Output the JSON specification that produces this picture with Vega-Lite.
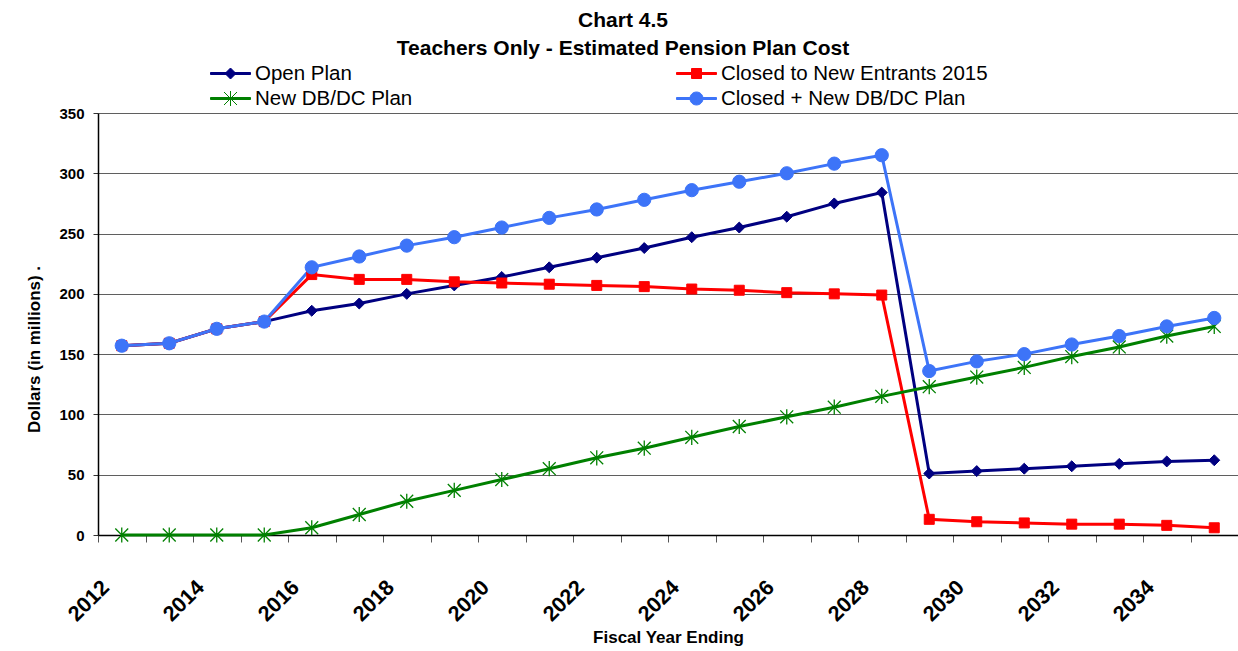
{
  "$schema": "https://vega.github.io/schema/vega-lite/v6.json",
  "autosize": {"type": "none"},
  "width": 1140,
  "height": 422,
  "padding": {"left": 98, "top": 113, "right": 0, "bottom": 116},
  "background": "white",
  "config": {
    "font": "Liberation Sans",
    "view": {"stroke": null},
    "axis": {"labelFont": "Liberation Sans", "titleFont": "Liberation Sans", "labelColor": "black", "titleColor": "black"}
  },
  "title": {
    "text": ["Chart 4.5", "Teachers Only - Estimated Pension Plan Cost"],
    "font": "Liberation Sans",
    "fontSize": 21,
    "fontWeight": "bold",
    "lineHeight": 28,
    "color": "black",
    "anchor": "middle",
    "frame": "group",
    "dx": -45,
    "offset": 4
  },
  "data": {
    "values": [
      {"year": 2012, "series": "Open Plan", "value": 157},
      {"year": 2013, "series": "Open Plan", "value": 159},
      {"year": 2014, "series": "Open Plan", "value": 171},
      {"year": 2015, "series": "Open Plan", "value": 177},
      {"year": 2016, "series": "Open Plan", "value": 186},
      {"year": 2017, "series": "Open Plan", "value": 192},
      {"year": 2018, "series": "Open Plan", "value": 200},
      {"year": 2019, "series": "Open Plan", "value": 207},
      {"year": 2020, "series": "Open Plan", "value": 214},
      {"year": 2021, "series": "Open Plan", "value": 222},
      {"year": 2022, "series": "Open Plan", "value": 230},
      {"year": 2023, "series": "Open Plan", "value": 238},
      {"year": 2024, "series": "Open Plan", "value": 247},
      {"year": 2025, "series": "Open Plan", "value": 255},
      {"year": 2026, "series": "Open Plan", "value": 264},
      {"year": 2027, "series": "Open Plan", "value": 275},
      {"year": 2028, "series": "Open Plan", "value": 284},
      {"year": 2029, "series": "Open Plan", "value": 51},
      {"year": 2030, "series": "Open Plan", "value": 53},
      {"year": 2031, "series": "Open Plan", "value": 55},
      {"year": 2032, "series": "Open Plan", "value": 57},
      {"year": 2033, "series": "Open Plan", "value": 59},
      {"year": 2034, "series": "Open Plan", "value": 61},
      {"year": 2035, "series": "Open Plan", "value": 62},
      {"year": 2012, "series": "Closed to New Entrants 2015", "value": 157},
      {"year": 2013, "series": "Closed to New Entrants 2015", "value": 159},
      {"year": 2014, "series": "Closed to New Entrants 2015", "value": 171},
      {"year": 2015, "series": "Closed to New Entrants 2015", "value": 177},
      {"year": 2016, "series": "Closed to New Entrants 2015", "value": 216},
      {"year": 2017, "series": "Closed to New Entrants 2015", "value": 212},
      {"year": 2018, "series": "Closed to New Entrants 2015", "value": 212},
      {"year": 2019, "series": "Closed to New Entrants 2015", "value": 210},
      {"year": 2020, "series": "Closed to New Entrants 2015", "value": 209},
      {"year": 2021, "series": "Closed to New Entrants 2015", "value": 208},
      {"year": 2022, "series": "Closed to New Entrants 2015", "value": 207},
      {"year": 2023, "series": "Closed to New Entrants 2015", "value": 206},
      {"year": 2024, "series": "Closed to New Entrants 2015", "value": 204},
      {"year": 2025, "series": "Closed to New Entrants 2015", "value": 203},
      {"year": 2026, "series": "Closed to New Entrants 2015", "value": 201},
      {"year": 2027, "series": "Closed to New Entrants 2015", "value": 200},
      {"year": 2028, "series": "Closed to New Entrants 2015", "value": 199},
      {"year": 2029, "series": "Closed to New Entrants 2015", "value": 13},
      {"year": 2030, "series": "Closed to New Entrants 2015", "value": 11},
      {"year": 2031, "series": "Closed to New Entrants 2015", "value": 10},
      {"year": 2032, "series": "Closed to New Entrants 2015", "value": 9},
      {"year": 2033, "series": "Closed to New Entrants 2015", "value": 9},
      {"year": 2034, "series": "Closed to New Entrants 2015", "value": 8},
      {"year": 2035, "series": "Closed to New Entrants 2015", "value": 6},
      {"year": 2012, "series": "New DB/DC Plan", "value": 0},
      {"year": 2013, "series": "New DB/DC Plan", "value": 0},
      {"year": 2014, "series": "New DB/DC Plan", "value": 0},
      {"year": 2015, "series": "New DB/DC Plan", "value": 0},
      {"year": 2016, "series": "New DB/DC Plan", "value": 6},
      {"year": 2017, "series": "New DB/DC Plan", "value": 17},
      {"year": 2018, "series": "New DB/DC Plan", "value": 28},
      {"year": 2019, "series": "New DB/DC Plan", "value": 37},
      {"year": 2020, "series": "New DB/DC Plan", "value": 46},
      {"year": 2021, "series": "New DB/DC Plan", "value": 55},
      {"year": 2022, "series": "New DB/DC Plan", "value": 64},
      {"year": 2023, "series": "New DB/DC Plan", "value": 72},
      {"year": 2024, "series": "New DB/DC Plan", "value": 81},
      {"year": 2025, "series": "New DB/DC Plan", "value": 90},
      {"year": 2026, "series": "New DB/DC Plan", "value": 98},
      {"year": 2027, "series": "New DB/DC Plan", "value": 106},
      {"year": 2028, "series": "New DB/DC Plan", "value": 115},
      {"year": 2029, "series": "New DB/DC Plan", "value": 123},
      {"year": 2030, "series": "New DB/DC Plan", "value": 131},
      {"year": 2031, "series": "New DB/DC Plan", "value": 139},
      {"year": 2032, "series": "New DB/DC Plan", "value": 148},
      {"year": 2033, "series": "New DB/DC Plan", "value": 156},
      {"year": 2034, "series": "New DB/DC Plan", "value": 165},
      {"year": 2035, "series": "New DB/DC Plan", "value": 173},
      {"year": 2012, "series": "Closed + New DB/DC Plan", "value": 157},
      {"year": 2013, "series": "Closed + New DB/DC Plan", "value": 159},
      {"year": 2014, "series": "Closed + New DB/DC Plan", "value": 171},
      {"year": 2015, "series": "Closed + New DB/DC Plan", "value": 177},
      {"year": 2016, "series": "Closed + New DB/DC Plan", "value": 222},
      {"year": 2017, "series": "Closed + New DB/DC Plan", "value": 231},
      {"year": 2018, "series": "Closed + New DB/DC Plan", "value": 240},
      {"year": 2019, "series": "Closed + New DB/DC Plan", "value": 247},
      {"year": 2020, "series": "Closed + New DB/DC Plan", "value": 255},
      {"year": 2021, "series": "Closed + New DB/DC Plan", "value": 263},
      {"year": 2022, "series": "Closed + New DB/DC Plan", "value": 270},
      {"year": 2023, "series": "Closed + New DB/DC Plan", "value": 278},
      {"year": 2024, "series": "Closed + New DB/DC Plan", "value": 286},
      {"year": 2025, "series": "Closed + New DB/DC Plan", "value": 293},
      {"year": 2026, "series": "Closed + New DB/DC Plan", "value": 300},
      {"year": 2027, "series": "Closed + New DB/DC Plan", "value": 308},
      {"year": 2028, "series": "Closed + New DB/DC Plan", "value": 315},
      {"year": 2029, "series": "Closed + New DB/DC Plan", "value": 136},
      {"year": 2030, "series": "Closed + New DB/DC Plan", "value": 144},
      {"year": 2031, "series": "Closed + New DB/DC Plan", "value": 150},
      {"year": 2032, "series": "Closed + New DB/DC Plan", "value": 158},
      {"year": 2033, "series": "Closed + New DB/DC Plan", "value": 165},
      {"year": 2034, "series": "Closed + New DB/DC Plan", "value": 173},
      {"year": 2035, "series": "Closed + New DB/DC Plan", "value": 180}
    ]
  },
  "encoding": {
    "x": {
      "field": "year",
      "type": "ordinal",
      "bandPosition": 0.5,
      "scale": {"type": "band", "paddingInner": 0, "paddingOuter": 0},
      "axis": {
        "title": "Fiscal Year Ending",
        "titleFontSize": 17,
        "titleFontWeight": "bold",
        "titlePadding": 4,
        "labelFontSize": 21.5,
        "labelFontWeight": "bold",
        "labelAngle": -45,
        "labelAlign": "right",
        "labelBaseline": "middle",
        "labelPadding": 42,
        "labelOffset": -16,
        "labelExpr": "datum.value % 2 === 0 ? datum.label : ''",
        "tickBand": "extent",
        "tickSize": 7,
        "tickColor": "#555555",
        "domainColor": "black",
        "domainWidth": 1.5,
        "grid": false
      }
    },
    "y": {
      "field": "value",
      "type": "quantitative",
      "scale": {"domain": [0, 350], "nice": false},
      "axis": {
        "title": "Dollars (in millions)  .",
        "titleFontSize": 17,
        "titleFontWeight": "bold",
        "titlePadding": 15,
        "titleY": 236,
        "titleAlign": "center",
        "values": [0, 50, 100, 150, 200, 250, 300, 350],
        "labelFontSize": 15,
        "labelFontWeight": "bold",
        "labelPadding": 9,
        "tickSize": 5,
        "tickColor": "#333333",
        "domainColor": "black",
        "domainWidth": 1.5,
        "grid": true,
        "gridColor": "#5f5f5f",
        "gridWidth": 1
      }
    }
  },
  "layer": [
    {
      "mark": {"type": "line", "strokeWidth": 3},
      "encoding": {
        "color": {
          "field": "series",
          "type": "nominal",
          "sort": ["Open Plan", "Closed to New Entrants 2015", "New DB/DC Plan", "Closed + New DB/DC Plan"],
          "scale": {
            "domain": ["Open Plan", "Closed to New Entrants 2015", "New DB/DC Plan", "Closed + New DB/DC Plan"],
            "range": ["#000080", "#FF0000", "#008000", "#3D74F8"]
          },
          "legend": {
            "title": null,
            "orient": "none",
            "legendX": 122,
            "legendY": -50,
            "direction": "horizontal",
            "columns": 2,
            "columnPadding": 261,
            "rowPadding": 4,
            "padding": 0,
            "symbolSize": 400,
            "labelFontSize": 20.5,
            "labelFont": "Liberation Sans",
            "labelColor": "black",
            "labelOffset": 14,
            "labelLimit": 400,
            "encode": {
              "symbols": {
                "update": {
                  "shape": {"signal": "datum.value === 'Open Plan' ? 'M-2,-0.1H2V0.1H-2Z M0,-0.55L0.55,0L0,0.55L-0.55,0Z' : datum.value === 'Closed to New Entrants 2015' ? 'M-2,-0.1H2V0.1H-2Z M-0.5,-0.5H0.5V0.5H-0.5Z' : datum.value === 'New DB/DC Plan' ? 'M-2,-0.1H2V0.1H-2Z M0,-0.75V0.75 M-0.65,-0.65L0.65,0.65 M-0.65,0.65L0.65,-0.65' : 'M-2,-0.1H2V0.1H-2Z M-0.65,0A0.65,0.65 0 1,1 0.65,0A0.65,0.65 0 1,1 -0.65,0Z'"},
                  "fill": {"signal": "scale('color', datum.value)"},
                  "stroke": {"signal": "scale('color', datum.value)"},
                  "strokeWidth": {"value": 1},
                  "opacity": {"value": 1},
                  "fillOpacity": {"value": 1}
                }
              }
            }
          }
        }
      }
    },
    {
      "transform": [{"filter": "datum.series === 'Open Plan'"}],
      "mark": {"type": "point", "shape": "diamond", "size": 120, "filled": true, "opacity": 1, "fill": "#000080", "stroke": "#000080", "strokeWidth": 1}
    },
    {
      "transform": [{"filter": "datum.series === 'Closed to New Entrants 2015'"}],
      "mark": {"type": "point", "shape": "square", "size": 100, "filled": true, "opacity": 1, "fill": "#FF0000", "stroke": "#FF0000", "strokeWidth": 1}
    },
    {
      "transform": [{"filter": "datum.series === 'New DB/DC Plan'"}],
      "mark": {"type": "point", "shape": "M0,-1V1M-0.85,-0.85L0.85,0.85M-0.85,0.85L0.85,-0.85", "size": 230, "filled": false, "opacity": 1, "fill": "#008000", "stroke": "#008000", "strokeWidth": 1.3}
    },
    {
      "transform": [{"filter": "datum.series === 'Closed + New DB/DC Plan'"}],
      "mark": {"type": "point", "shape": "circle", "size": 175, "filled": true, "opacity": 1, "fill": "#3D74F8", "stroke": "#3D74F8", "strokeWidth": 1}
    }
  ]
}
